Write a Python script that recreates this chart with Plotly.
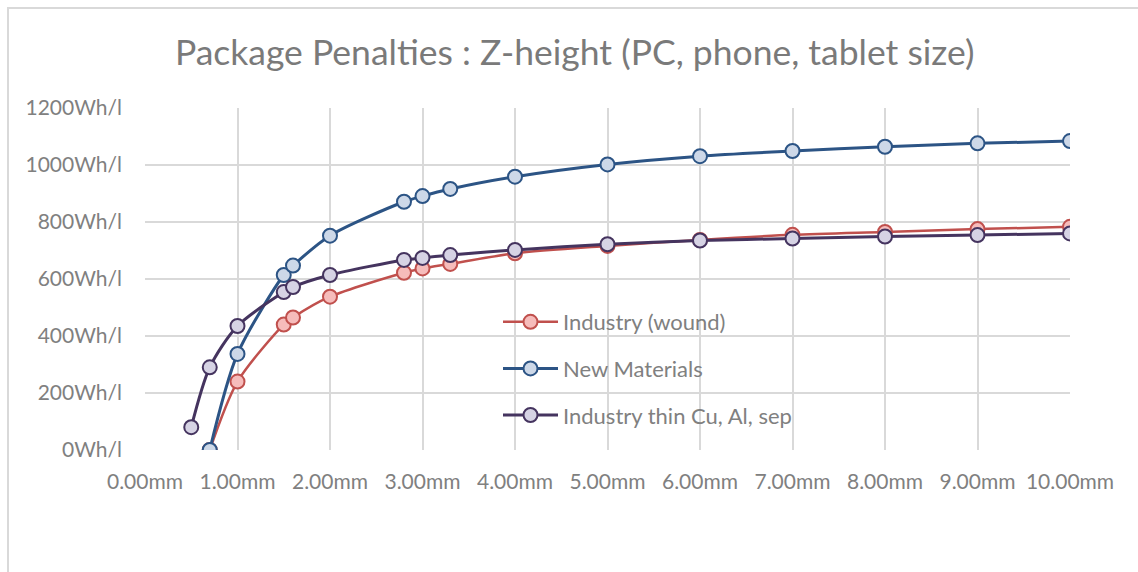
import plotly.graph_objects as go

# Z-height (mm) vs. energy density (Wh/l)
wound_x = [0.7, 1.0, 1.5, 1.6, 2.0, 2.8, 3.0, 3.3, 4, 5, 6, 7, 8, 9, 10]
wound_y = [0, 240, 440, 465, 538, 622, 637, 653, 690, 716, 737, 755, 765, 775, 783]

newmat_x = [0.7, 1.0, 1.5, 1.6, 2.0, 2.8, 3.0, 3.3, 4, 5, 6, 7, 8, 9, 10]
newmat_y = [0, 337, 614, 647, 752, 871, 891, 916, 959, 1002, 1031, 1049, 1064, 1076, 1084]

thin_x = [0.5, 0.7, 1.0, 1.5, 1.6, 2.0, 2.8, 3.0, 3.3, 4, 5, 6, 7, 8, 9, 10]
thin_y = [80, 290, 435, 554, 572, 614, 667, 674, 684, 702, 722, 735, 742, 749, 754, 760]

series_names = ["Industry (wound)", "New Materials", "Industry thin Cu, Al, sep"]
line_colors = ["#c0504d", "#2c5485", "#45345f"]
fill_colors = ["#f6bcbb", "#cdd8e8", "#d6d3e4"]
line_widths = [2.5, 3, 3]

W, H = 1138, 572
ML, MR, MT, MB = 145, 68, 108, 122
font_family = "Lato, 'Open Sans', sans-serif"
text_gray = "#808080"
grid_gray = "#d9d9d9"

fig = go.Figure()
for name, xs, ys, lc, fc, lw in zip(
    series_names,
    [wound_x, newmat_x, thin_x],
    [wound_y, newmat_y, thin_y],
    line_colors, fill_colors, line_widths,
):
    fig.add_trace(go.Scatter(
        x=xs, y=ys, name=name, legendgroup=name,
        mode="lines+markers",
        line=dict(color=lc, width=lw, shape="spline", smoothing=0.8),
        marker=dict(symbol="circle", size=14, color=fc,
                    line=dict(color=lc, width=2)),
    ))

# outer chart frame (top and left edges)
pw = W - ML - MR
ph = H - MT - MB
fx0 = (8 - ML) / pw
fx1 = (W + 5 - ML) / pw
fy1 = (H - MB - 8) / ph
fy0 = (H - MB - H - 5) / ph
fig.add_shape(type="rect", xref="paper", yref="paper",
              x0=fx0, x1=fx1, y0=fy0, y1=fy1,
              line=dict(color=grid_gray, width=2), layer="below")

fig.update_layout(
    width=W, height=H,
    margin=dict(l=ML, r=MR, t=MT, b=MB, pad=0),
    paper_bgcolor="white", plot_bgcolor="white",
    font=dict(family=font_family, color=text_gray, size=21),
    title=dict(text="Package Penalties : Z-height (PC, phone, tablet size)",
               x=0.505, xanchor="center", y=1 - 53 / H, yanchor="middle",
               font=dict(size=35.5, color="#7a7a7a", family=font_family)),
    showlegend=True,
    legend=dict(x=(498 - ML) / pw, xanchor="left",
                y=(H - MB - 301) / ph, yanchor="top",
                bgcolor="rgba(0,0,0,0)", tracegroupgap=15,
                font=dict(size=22, color=text_gray), itemwidth=55),
    xaxis=dict(range=[0, 10], dtick=1, tick0=0, tickformat=".2f",
               ticksuffix="mm", showgrid=True, gridcolor=grid_gray,
               gridwidth=1.5, zeroline=False, showline=False,
               ticks="", ticklabelstandoff=17,
               tickfont=dict(size=21, color=text_gray)),
    yaxis=dict(range=[0, 1200], dtick=200, tick0=0, ticksuffix="Wh/l",
               showgrid=True, gridcolor=grid_gray, gridwidth=1.5,
               zeroline=False, showline=False, ticks="",
               ticklabelstandoff=22,
               tickfont=dict(size=21, color=text_gray)),
)

fig.write_html("out.html")
